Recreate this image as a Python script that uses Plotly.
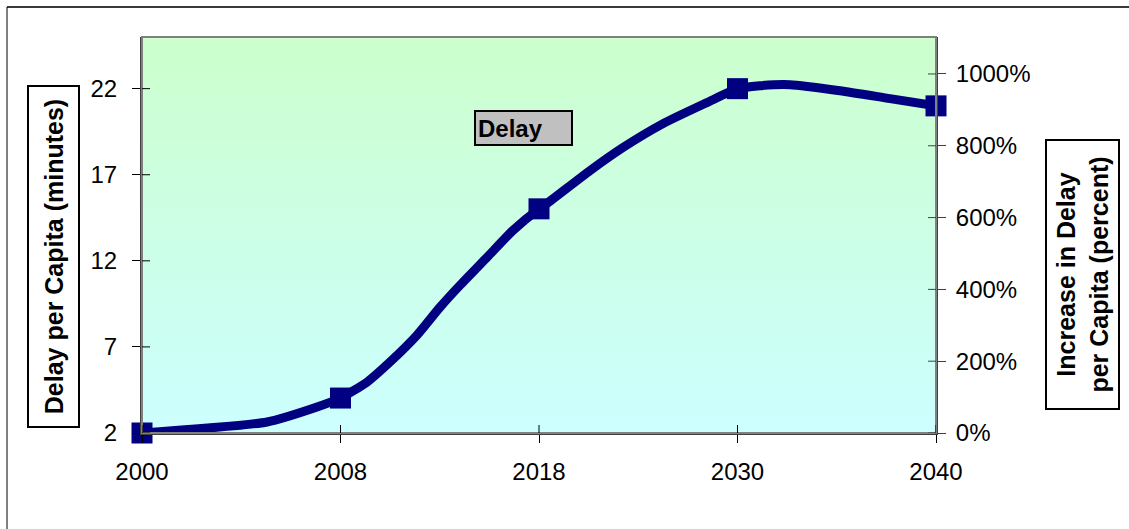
import numpy as np
import plotly.graph_objects as go

# ---- data ----
tick_labels = ["2000", "2008", "2018", "2030", "2040"]
marker_values = [2.0, 4.03, 15.02, 22.0, 21.0]

# smoothed delay curve, x in category units (0 = 2000 ... 4 = 2040)
curve_x = [0.0, 0.63, 0.882, 1.0, 1.134, 1.249, 1.385, 1.501, 1.602, 1.738, 1.869, 2.0,
           2.04, 2.257, 2.423, 2.625, 2.846, 3.0, 3.113, 3.264, 3.516, 3.768, 4.0]
curve_values = [2.0, 2.64, 3.51, 4.03, 4.96, 6.12, 7.68, 9.30, 10.58, 12.20, 13.77, 15.02,
                15.33, 17.24, 18.58, 19.97, 21.19, 22.0, 22.17, 22.23, 21.88, 21.42, 21.0]

left_ticks = [2, 7, 12, 17, 22]
right_ticks = [0, 200, 400, 600, 800, 1000]
right_labels = ["0%", "200%", "400%", "600%", "800%", "1000%"]

tick_pos = list(range(len(tick_labels)))

NAVY = "#000080"
FONT = "Liberation Sans, Arial, sans-serif"

fig = go.Figure()

fig.add_trace(go.Scatter(
    x=curve_x, y=curve_values, mode="lines",
    line=dict(color=NAVY, width=9, shape="spline", smoothing=0.6),
    cliponaxis=False, showlegend=False, hoverinfo="skip"))

fig.add_trace(go.Scatter(
    x=tick_pos, y=marker_values, mode="markers",
    marker=dict(symbol="square", size=21, color=NAVY),
    cliponaxis=False, showlegend=False, name="Delay"))

# invisible trace for the right axis
fig.add_trace(go.Scatter(x=[0], y=[0], yaxis="y2", mode="markers",
                         marker=dict(opacity=0), showlegend=False, hoverinfo="skip"))

# plot-area layout in pixels
W, H = 1129, 529
L, R, T, B = 142, 936, 37, 433
pw, ph = R - L, B - T

def px(x):
    return (x - L) / pw

def py(y):
    return (B - y) / ph

shapes = []
# vertical gradient background (light green top -> light cyan bottom)
n = 80
c_top = np.array([0xCC, 0xFF, 0xCC])
c_bot = np.array([0xCC, 0xFF, 0xFF])
for i in range(n):
    t = (i + 0.5) / n
    c = c_bot + (c_top - c_bot) * t
    shapes.append(dict(type="rect", xref="paper", yref="paper",
                       x0=0, x1=1, y0=i / n, y1=(i + 1) / n + 0.002,
                       fillcolor="rgb(%d,%d,%d)" % tuple(c.round()),
                       line=dict(width=0), layer="below"))
# plot-area frame
shapes.append(dict(type="rect", xref="paper", yref="paper", x0=0, x1=1, y0=0, y1=1,
                   line=dict(color="#808080", width=2), layer="above"))
# outer chart border (top & left visible)
shapes.append(dict(type="line", xref="paper", yref="paper",
                   x0=px(7), x1=px(W + 20), y0=py(7), y1=py(7),
                   line=dict(color="#3a3a3a", width=2)))
shapes.append(dict(type="line", xref="paper", yref="paper",
                   x0=px(7), x1=px(7), y0=py(7), y1=py(H + 20),
                   line=dict(color="#000000", width=1)))
# inner halves of crossing tick marks
for v in left_ticks:
    shapes.append(dict(type="line", xref="paper", yref="y", x0=0, x1=8 / pw,
                       y0=v, y1=v, line=dict(color="#000000", width=1)))
for v in right_ticks:
    shapes.append(dict(type="line", xref="paper", yref="y2", x0=1 - 8 / pw, x1=1,
                       y0=v, y1=v, line=dict(color="#404040", width=1)))
for p in tick_pos:
    shapes.append(dict(type="line", xref="x", yref="paper", x0=p, x1=p,
                       y0=0, y1=8 / ph, line=dict(color="#000000", width=1)))

annotations = [
    dict(text="<b>Delay per Capita (minutes)</b>", textangle=-90,
         xref="paper", yref="paper", x=px(53.5), y=py(256.5),
         xanchor="center", yanchor="middle",
         showarrow=False, width=339, height=49, borderpad=0,
         bordercolor="#000000", borderwidth=2, bgcolor="#ffffff",
         font=dict(size=25, family=FONT, color="#000000")),
    dict(text="<b>Increase in Delay<br>per Capita (percent)</b>", textangle=-90,
         xref="paper", yref="paper", x=px(1082.5), y=py(274.5),
         xanchor="center", yanchor="middle",
         showarrow=False, width=267, height=71, borderpad=0,
         bordercolor="#000000", borderwidth=2, bgcolor="#ffffff",
         font=dict(size=25, family=FONT, color="#000000")),
    dict(text="<b>Delay</b>", xref="paper", yref="paper", x=px(523.5), y=py(128),
         xanchor="center", yanchor="middle",
         showarrow=False, width=91, height=28, borderpad=2, align="left",
         bordercolor="#000000", borderwidth=2, bgcolor="#C0C0C0",
         font=dict(size=24, family=FONT, color="#000000")),
]

fig.update_layout(
    width=W, height=H,
    margin=dict(l=L, r=W - R, t=T, b=H - B, pad=0),
    paper_bgcolor="#ffffff", plot_bgcolor="rgba(0,0,0,0)",
    font=dict(family=FONT, size=24, color="#000000"),
    xaxis=dict(range=[0, len(tick_labels) - 1], tickvals=tick_pos, ticktext=tick_labels,
               showgrid=False, zeroline=False, showline=True, linecolor="#404040", linewidth=2,
               ticks="outside", ticklen=8, tickcolor="#000000", tickwidth=1,
               ticklabelstandoff=8, tickfont=dict(size=24)),
    yaxis=dict(range=[2, 25], tickvals=left_ticks, showgrid=False, zeroline=False,
               showline=True, linecolor="#404040", linewidth=2,
               ticks="outside", ticklen=8, tickcolor="#000000", tickwidth=1,
               ticklabelstandoff=10, tickfont=dict(size=24)),
    yaxis2=dict(range=[0, 1103], tickvals=right_ticks, ticktext=right_labels,
                overlaying="y", side="right", showgrid=False, zeroline=False,
                showline=True, linecolor="#404040", linewidth=2,
                ticks="outside", ticklen=8, tickcolor="#404040", tickwidth=1,
                ticklabelstandoff=5, tickfont=dict(size=24)),
    shapes=shapes, annotations=annotations,
)

fig.write_html("out.html")
